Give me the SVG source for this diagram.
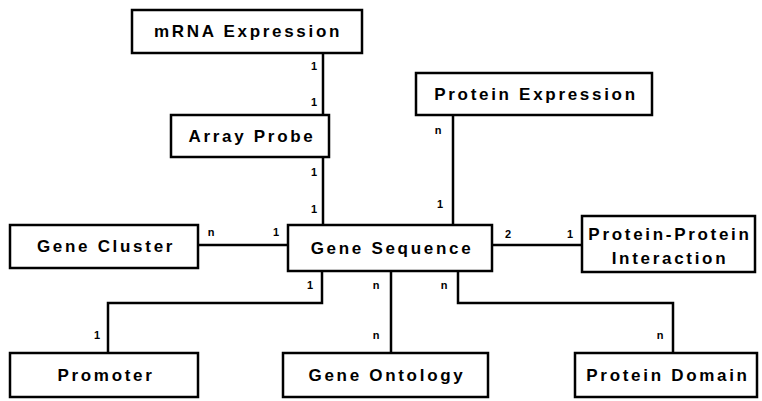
<svg xmlns="http://www.w3.org/2000/svg" width="762" height="401" viewBox="0 0 762 401">
<style>
.box{fill:#fff;stroke:#000;stroke-width:2.5}
.lbl{font-family:"Liberation Sans",Arial,sans-serif;font-weight:bold;font-size:17px;letter-spacing:2.7px;text-anchor:middle;fill:#000}
.line{fill:none;stroke:#000;stroke-width:2.5}
.m{font-family:"Liberation Sans",Arial,sans-serif;font-weight:bold;font-size:11px;text-anchor:middle;fill:#000}
</style>
<rect width="762" height="401" fill="#fff"/>
<g id="connectors">
<line class="line" x1="323" y1="53" x2="323" y2="115"/>
<line class="line" x1="323" y1="157" x2="323" y2="225"/>
<line class="line" x1="198" y1="245" x2="288" y2="245"/>
<line class="line" x1="453" y1="115" x2="453" y2="225"/>
<line class="line" x1="492" y1="245" x2="582" y2="245"/>
<polyline class="line" points="322,271 322,303 108,303 108,353"/>
<line class="line" x1="391" y1="271" x2="391" y2="353"/>
<polyline class="line" points="458,271 458,303 673,303 673,353"/>
<text class="m" x="314" y="70">1</text>
<text class="m" x="314" y="106">1</text>
<text class="m" x="314" y="176">1</text>
<text class="m" x="314" y="213">1</text>
<text class="m" x="211" y="236">n</text>
<text class="m" x="276" y="236">1</text>
<text class="m" x="438" y="134">n</text>
<text class="m" x="440" y="208">1</text>
<text class="m" x="508" y="238">2</text>
<text class="m" x="570" y="238">1</text>
<text class="m" x="310" y="289">1</text>
<text class="m" x="97" y="339">1</text>
<text class="m" x="376" y="289">n</text>
<text class="m" x="376" y="339">n</text>
<text class="m" x="444" y="289">n</text>
<text class="m" x="660" y="339">n</text>
</g>
<g id="mrna"><rect class="box" x="132" y="10" width="230" height="43"/><text class="lbl" x="248" y="37">mRNA Expression</text></g>
<g id="probe"><rect class="box" x="171" y="115" width="158" height="42"/><text class="lbl" x="252" y="142">Array Probe</text></g>
<g id="protexp"><rect class="box" x="416" y="73" width="236" height="42"/><text class="lbl" x="536" y="100">Protein Expression</text></g>
<g id="cluster"><rect class="box" x="10" y="225" width="188" height="43"/><text class="lbl" x="106" y="252">Gene Cluster</text></g>
<g id="sequence"><rect class="box" x="288" y="225" width="204" height="46"/><text class="lbl" x="392" y="254">Gene Sequence</text></g>
<g id="ppi"><rect class="box" x="582" y="216" width="173" height="56"/><text class="lbl" x="670" y="240">Protein-Protein</text><text class="lbl" x="670" y="264">Interaction</text></g>
<g id="promoter"><rect class="box" x="10" y="353" width="188" height="44"/><text class="lbl" x="106" y="381">Promoter</text></g>
<g id="ontology"><rect class="box" x="283" y="353" width="205" height="44"/><text class="lbl" x="387" y="381">Gene Ontology</text></g>
<g id="domain"><rect class="box" x="575" y="353" width="182" height="44"/><text class="lbl" x="668" y="381">Protein Domain</text></g>
</svg>
